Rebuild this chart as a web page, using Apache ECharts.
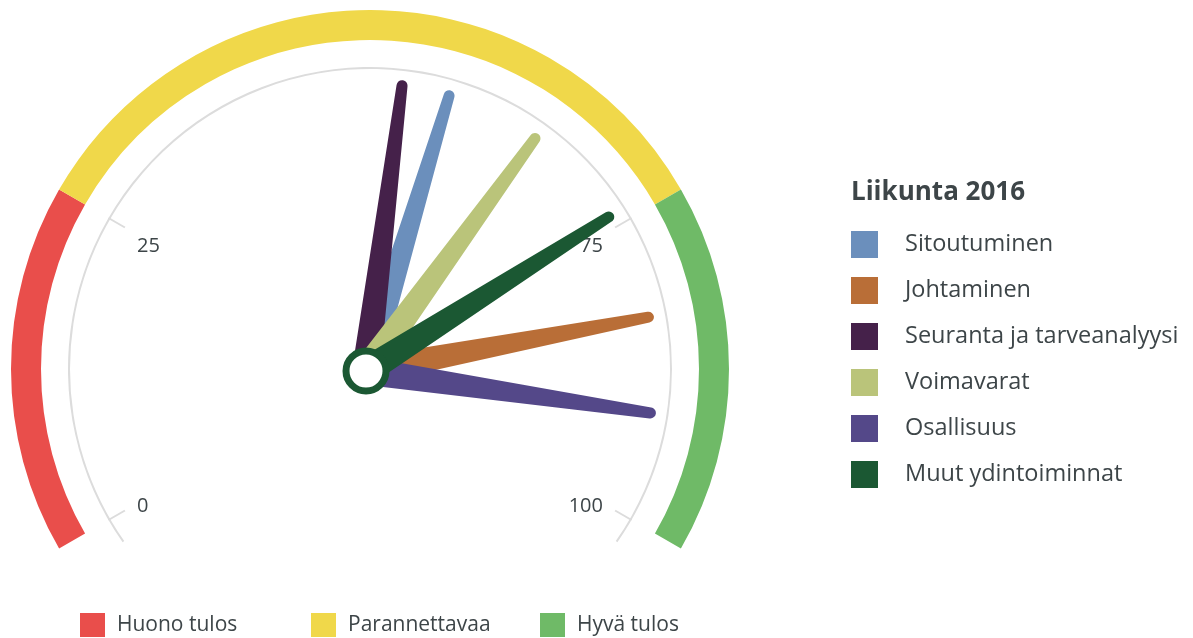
<!DOCTYPE html>
<html>
<head>
<meta charset="utf-8">
<script src="https://cdn.jsdelivr.net/npm/echarts@6/dist/echarts.min.js"></script>
<style>
  html, body { margin: 0; padding: 0; background: #fff; }
  #main { width: 1193px; height: 638px; }
</style>
</head>
<body>
<div id="main"></div>
<script>
// mittarin arvot (0-100)
var needleNames = ['Sitoutuminen', 'Johtaminen', 'Seuranta ja tarveanalyysi', 'Voimavarat', 'Osallisuus', 'Muut ydintoiminnat'];
var needleValues = [57, 83, 53, 65, 91, 74];
var needleColors = ['#6b8fbc', '#b96e37', '#45214a', '#bac47a', '#544889', '#1b5833'];

var bandNames = ['Huono tulos', 'Parannettavaa', 'Hyvä tulos'];
var bandLimits = [0, 25, 75, 100];
var bandColors = ['#e94e4b', '#f0d84a', '#6fba67'];

var tickValues = [0, 25, 75, 100];

var textColor = '#3d4548';
var font = 'Open Sans';
var arcCenter = [370, 369];
var needleCenter = [366, 371];
var START = 210, END = -30;

function toAngle(v) {
  return START - (START - END) * v / 100;
}

var series = [];

// värialueet
bandNames.forEach(function (name, i) {
  series.push({
    name: name,
    type: 'gauge',
    center: arcCenter,
    radius: 359,
    startAngle: toAngle(bandLimits[i]),
    endAngle: toAngle(bandLimits[i + 1]),
    min: bandLimits[i],
    max: bandLimits[i + 1],
    itemStyle: { color: bandColors[i] },
    axisLine: { lineStyle: { width: 30, color: [[1, bandColors[i]]] } },
    axisTick: { show: false },
    splitLine: { show: false },
    axisLabel: { show: false },
    pointer: { show: false },
    anchor: { show: false },
    title: { show: false },
    detail: { show: false },
    data: []
  });
});

// harmaa kaari
series.push({
  type: 'gauge',
  center: arcCenter,
  radius: 302,
  startAngle: 215,
  endAngle: -35,
  axisLine: { lineStyle: { width: 2, color: [[1, '#dcdcdc']] } },
  axisTick: { show: false },
  splitLine: { show: false },
  axisLabel: { show: false },
  pointer: { show: false },
  anchor: { show: false },
  title: { show: false },
  detail: { show: false },
  data: []
});

// asteikon merkit 0-25 ja 75-100
[[tickValues[0], tickValues[1]], [tickValues[2], tickValues[3]]].forEach(function (pair) {
  series.push({
    type: 'gauge',
    center: arcCenter,
    radius: 302,
    startAngle: toAngle(pair[0]),
    endAngle: toAngle(pair[1]),
    min: pair[0],
    max: pair[1],
    splitNumber: 1,
    axisLine: { show: false, lineStyle: { width: 0 } },
    axisTick: { show: false },
    splitLine: { show: true, distance: 0, length: 19, lineStyle: { color: '#dcdcdc', width: 2 } },
    axisLabel: {
      distance: 14,
      color: textColor,
      fontFamily: font,
      fontSize: 20,
      formatter: function (v) {
        return (v === 25 || v === 75) ? '{t|' + v + '}' : '{b|' + v + '}';
      },
      rich: {
        t: { color: textColor, fontFamily: font, fontSize: 20, padding: [24, 0, 0, 0] },
        b: { color: textColor, fontFamily: font, fontSize: 20, padding: [5, 0, 0, 0] }
      }
    },
    pointer: { show: false },
    anchor: { show: false },
    title: { show: false },
    detail: { show: false },
    data: []
  });
});

// osoittimet (kapenevat, pyöreä kärki)
var needlePath = 'path://M8.5,5.5 C8.5,2.46 10.96,0 14,0 C17.04,0 19.5,2.46 19.5,5.5 L28,293 L0,293 Z';
needleNames.forEach(function (name, i) {
  var last = i === needleNames.length - 1;
  series.push({
    name: name,
    type: 'gauge',
    center: needleCenter,
    radius: 300,
    startAngle: START,
    endAngle: END,
    min: 0,
    max: 100,
    itemStyle: { color: needleColors[i] },
    axisLine: { show: false },
    axisTick: { show: false },
    splitLine: { show: false },
    axisLabel: { show: false },
    pointer: {
      icon: needlePath,
      keepAspect: false,
      length: 293,
      width: 28,
      offsetCenter: [0, 0],
      itemStyle: { color: needleColors[i] }
    },
    anchor: {
      show: last,
      showAbove: true,
      size: 40,
      itemStyle: { color: '#fff', borderColor: needleColors[i], borderWidth: 7 }
    },
    title: { show: false },
    detail: { show: false },
    animation: false,
    data: [{ value: needleValues[i], name: name }]
  });
});

var bottomLegendLeft = [80, 311, 540];
var legends = [{
  orient: 'vertical',
  left: 851,
  top: 231,
  padding: 0,
  itemWidth: 27,
  itemHeight: 27,
  itemGap: 19,
  selectedMode: false,
  icon: 'rect',
  textStyle: { color: textColor, fontFamily: font, fontSize: 23.5, padding: [0, 0, 0, 22] },
  data: needleNames.map(function (n, i) { return { name: n, itemStyle: { color: needleColors[i] } }; })
}];
bandNames.forEach(function (n, i) {
  legends.push({
    orient: 'horizontal',
    left: bottomLegendLeft[i],
    top: 613,
    padding: 0,
    itemWidth: 25,
    itemHeight: 24,
    selectedMode: false,
    icon: 'rect',
    textStyle: { color: textColor, fontFamily: font, fontSize: 21, padding: [0, 0, 0, 7] },
    data: [{ name: n, itemStyle: { color: bandColors[i] } }]
  });
});

var chart = echarts.init(document.getElementById('main'));
chart.setOption({
  animation: false,
  title: {
    text: 'Liikunta 2016',
    left: 851,
    top: 180,
    padding: 0,
    textStyle: { color: textColor, fontFamily: font, fontSize: 26, fontWeight: 'bold' }
  },
  legend: legends,
  series: series
});
</script>
</body>
</html>
